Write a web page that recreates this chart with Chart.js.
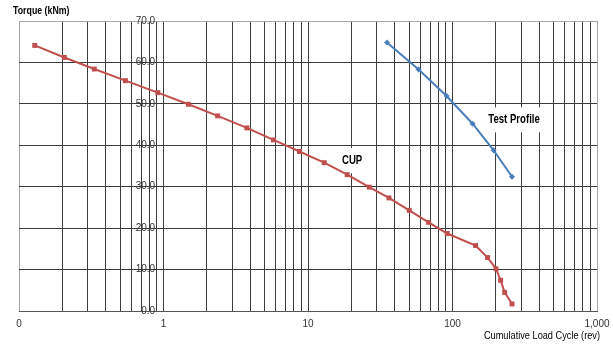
<!DOCTYPE html>
<html><head><meta charset="utf-8">
<script src="https://cdn.jsdelivr.net/npm/chart.js@4/dist/chart.umd.min.js"></script>
<style>html,body{margin:0;padding:0;background:#fff}#wrap{width:613px;height:347px}</style>
</head><body><div id="wrap"><canvas id="c" width="613" height="347"></canvas></div>
<script>
// ---- data ----
const cupCycles  = [0.1285, 0.206, 0.332, 0.545, 0.913, 1.487, 2.37, 3.775, 5.77, 8.73, 12.95, 18.68, 26.53, 36.33, 50.2, 68.3, 92.0, 144.5, 175, 200, 215.4, 229.6, 258.2];
const cupTorque  = [64.1, 61.2, 58.4, 55.6, 52.7, 49.9, 47.1, 44.2, 41.3, 38.5, 35.8, 32.9, 29.9, 27.3, 24.3, 21.4, 18.7, 15.8, 12.9, 10.2, 7.4, 4.5, 1.7];
const testCycles = [35.2, 58.3, 91.0, 137.8, 192.6, 258.2];
const testTorque = [64.8, 58.3, 51.9, 45.2, 38.8, 32.4];
const xMajorTicks = [0.1, 1, 10, 100, 1000];
const xGridTicks = [0.1,0.2,0.3,0.4,0.5,0.6,0.7,0.8,0.9,
                    1,2,3,4,5,6,7,8,9,
                    10,20,30,40,50,60,70,80,90,
                    100,200,300,400,500,600,700,800,900,1000];
const yTicks = [0, 10, 20, 30, 40, 50, 60, 70];
const seriesNames = ['CUP', 'Test Profile'];
const yTitle = 'Torque (kNm)';
const xTitle = 'Cumulative Load Cycle (rev)';
// label anchors (data coordinates)
const labelAnchors = [{text: 'CUP', x: 20.2, y: 36.4}, {text: 'Test Profile', x: 266.7, y: 46.25}];

const condensedRatio = 0.8; // Calibri-like narrow look
function drawNarrow(ctx, text, x, y, align) {
  const w = ctx.measureText(text).width * condensedRatio;
  let left = x;
  if (align === 'center') left = x - w / 2;
  else if (align === 'right') left = x - w;
  ctx.save();
  ctx.translate(left, y);
  ctx.scale(condensedRatio, 1);
  ctx.textAlign = 'left';
  ctx.fillText(text, 0, 0);
  ctx.restore();
  return w;
}

const textPlugin = {
  id: 'texts',
  beforeDatasetsDraw(chart) {
    const {ctx, scales: {x, y}} = chart;
    ctx.save();
    ctx.font = 'bold 12px "Liberation Sans", Arial, sans-serif';
    ctx.textBaseline = 'middle';
    labelAnchors.forEach(l => {
      const px = x.getPixelForValue(l.x), py = y.getPixelForValue(l.y);
      const w = ctx.measureText(l.text).width * condensedRatio;
      ctx.fillStyle = '#fff';
      ctx.fillRect(px - w / 2 - 4, py - 12, w + 8, 25);
      ctx.fillStyle = '#000';
      drawNarrow(ctx, l.text, px, py, 'center');
    });
    ctx.restore();
  },
  afterDraw(chart) {
    const ctx = chart.ctx;
    ctx.save();
    ctx.fillStyle = '#000';
    ctx.textBaseline = 'middle';
    ctx.font = 'bold 11px "Liberation Sans", Arial, sans-serif';
    drawNarrow(ctx, yTitle, 13, 11, 'left');
    ctx.font = '11.5px "Liberation Sans", Arial, sans-serif';
    drawNarrow(ctx, xTitle, 600, 336, 'right');
    ctx.restore();
  }
};

new Chart(document.getElementById('c'), {
  type: 'line',
  data: {
    datasets: [
      {label: seriesNames[0], data: cupCycles.map((v, i) => ({x: v, y: cupTorque[i]})),
       borderColor: '#C0504D', backgroundColor: '#C0504D', borderWidth: 2,
       pointStyle: 'rect', pointRadius: 3.5, pointBorderWidth: 0, tension: 0},
      {label: seriesNames[1], data: testCycles.map((v, i) => ({x: v, y: testTorque[i]})),
       borderColor: '#4A7EBB', backgroundColor: '#4A7EBB', borderWidth: 2,
       pointStyle: 'rectRot', pointRadius: 3, pointBorderWidth: 0, tension: 0}
    ]
  },
  options: {
    responsive: false, animation: false, devicePixelRatio: 1,
    layout: {padding: {left: 19, right: 16, top: 21, bottom: 0}},
    plugins: {legend: {display: false}, tooltip: {enabled: false}},
    scales: {
      x: {
        type: 'logarithmic', min: 0.1, max: 1000,
        afterBuildTicks: s => { s.ticks = xGridTicks.map(v => ({value: v, major: xMajorTicks.includes(v)})); },
        afterFit: s => { s.height = 36; s.paddingLeft = 0; s.paddingRight = 0; },
        grid: {drawTicks: false, lineWidth: 1,
               color: c => (c.tick && (c.tick.value === 0.1 || c.tick.value === 1000)) ? '#a6a6a6' : '#3c3c3c'},
        border: {display: true, color: '#555'},
        ticks: {autoSkip: false, maxRotation: 0, padding: 7, color: '#333',
                font: {family: '"Liberation Sans", Arial, sans-serif', size: 10},
                callback: v => xMajorTicks.includes(v) ? (v === 0.1 ? '0' : v.toLocaleString('en-US')) : ''}
      },
      y: {
        type: 'linear', position: {x: 0.875}, min: 0, max: 70,
        afterBuildTicks: s => { s.ticks = yTicks.map(v => ({value: v})); },
        grid: {drawTicks: false, lineWidth: 1,
               color: c => (c.tick && c.tick.value === 70) ? '#a6a6a6' : '#3c3c3c'},
        border: {display: false},
        ticks: {padding: 0, color: '#333',
                font: {family: '"Liberation Sans", Arial, sans-serif', size: 10},
                callback: v => v.toFixed(1)}
      }
    }
  },
  plugins: [textPlugin]
});
</script></body></html>
